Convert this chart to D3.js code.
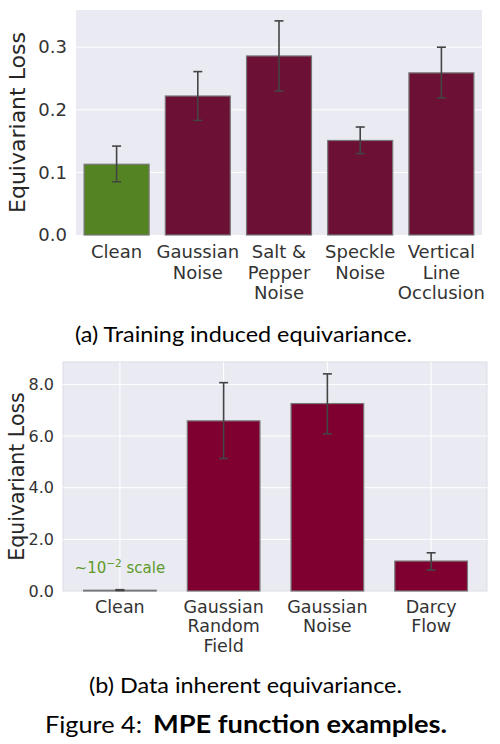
<!DOCTYPE html>
<html><head><meta charset="utf-8">
<script src="https://cdn.jsdelivr.net/npm/d3@7"></script>
<style>body{margin:0;background:#fff}svg{display:block}</style>
</head><body>
<script>
// Panel (a)
const catsA = [["Clean"],["Gaussian","Noise"],["Salt &","Pepper","Noise"],["Speckle","Noise"],["Vertical","Line","Occlusion"]];
const valsA = [0.113, 0.222, 0.286, 0.151, 0.259];
const errLoA = [0.085, 0.183, 0.230, 0.130, 0.219];
const errHiA = [0.142, 0.261, 0.342, 0.1725, 0.300];
const colorsA = ["#548421", "#6d1035", "#6d1035", "#6d1035", "#6d1035"];
const ticksA = [0.0, 0.1, 0.2, 0.3];

// Panel (b)
const catsB = [["Clean"],["Gaussian","Random","Field"],["Gaussian","Noise"],["Darcy","Flow"]];
const valsB = [0.03, 6.59, 7.26, 1.16];
const errLoB = [0.02, 5.13, 6.09, 0.81];
const errHiB = [0.05, 8.07, 8.41, 1.48];
const colorsB = ["#7f0030", "#7f0030", "#7f0030", "#7f0030"];
const ticksB = [0.0, 2.0, 4.0, 6.0, 8.0];

const W = 500, H = 744;
const svg = d3.select("body").append("svg").attr("width", W).attr("height", H);
const tickCol = "#333";
const font = "DejaVu Sans, sans-serif";

function panel(o) {
  const g = svg.append("g");
  g.append("rect").attr("x", o.left).attr("y", o.top).attr("width", o.right - o.left).attr("height", o.bottom - o.top)
    .attr("fill", "#eaeaf2").attr("stroke", o.border ? "#dcdce6" : "none");
  const idx = o.cats.map((d, i) => i);
  const x = d3.scaleBand().domain(idx).range([o.xl, o.xr]).paddingInner(o.pad).paddingOuter(o.pad / 2);
  const y = d3.scaleLinear().domain([0, o.ymax]).range([o.bottom, o.top]);
  g.selectAll(".hg").data(o.ticks.filter(t => t > 0)).join("line")
    .attr("x1", o.left).attr("x2", o.right).attr("y1", d => y(d)).attr("y2", d => y(d))
    .attr("stroke", "#fff").attr("stroke-width", 1);
  if (o.vgrid) {
    g.selectAll(".vg").data(idx).join("line")
      .attr("x1", d => x(d) + x.bandwidth() / 2).attr("x2", d => x(d) + x.bandwidth() / 2)
      .attr("y1", o.top).attr("y2", o.bottom).attr("stroke", "#fff").attr("stroke-width", 1);
  }
  g.selectAll(".bar").data(idx).join("rect")
    .attr("x", d => x(d)).attr("width", x.bandwidth())
    .attr("y", d => y(o.vals[d])).attr("height", d => y(0) - y(o.vals[d]))
    .attr("fill", d => o.colors[d]).attr("stroke", "#777").attr("stroke-width", 1.2);
  const cx = d => x(d) + x.bandwidth() / 2;
  g.selectAll(".ev").data(idx).join("line")
    .attr("x1", cx).attr("x2", cx).attr("y1", d => y(o.lo[d])).attr("y2", d => y(o.hi[d]))
    .attr("stroke", "#444").attr("stroke-width", 1.6);
  [o.lo, o.hi].forEach(arr => {
    g.selectAll(null).data(idx).join("line")
      .attr("x1", d => cx(d) - 4.5).attr("x2", d => cx(d) + 4.5)
      .attr("y1", d => y(arr[d])).attr("y2", d => y(arr[d]))
      .attr("stroke", "#444").attr("stroke-width", 1.6);
  });
  const ya = g.append("g").attr("transform", `translate(${o.left},0)`)
    .call(d3.axisLeft(y).tickValues(o.ticks).tickFormat(d3.format(".1f")).tickSize(0).tickPadding(o.ypad));
  ya.select(".domain").remove();
  ya.selectAll("text").attr("font-family", font).attr("font-size", o.yfs).attr("fill", tickCol);
  const xl = g.selectAll(".xl").data(idx).join("text")
    .attr("x", cx).attr("y", o.bottom + o.xoff)
    .attr("text-anchor", "middle").attr("font-family", font).attr("font-size", o.xfs).attr("fill", tickCol);
  xl.selectAll("tspan").data(d => o.cats[d].map(s => ({s, d}))).join("tspan")
    .attr("x", t => cx(t.d)).attr("dy", (t, i) => i === 0 ? 0 : o.lh).text(t => t.s);
  g.append("text").attr("transform", `translate(${o.ylx},${(o.top + o.bottom) / 2}) rotate(-90)`)
    .attr("text-anchor", "middle").attr("dominant-baseline", "central")
    .attr("font-family", font).attr("font-size", o.ylfs).attr("fill", "#262626").text("Equivariant Loss");
  return {g, x, y};
}

panel({cats: catsA, vals: valsA, lo: errLoA, hi: errHiA, colors: colorsA, ticks: ticksA,
  left: 76, right: 482, top: 10, bottom: 235, xl: 76, xr: 482, pad: 0.2, ymax: 0.3594,
  border: false, vgrid: false, ypad: 9, yfs: 18, xfs: 18, xoff: 23, lh: 20.5, ylx: 17, ylfs: 22});

const pb = panel({cats: catsB, vals: valsB, lo: errLoB, hi: errHiB, colors: colorsB, ticks: ticksB,
  left: 63, right: 487, top: 362, bottom: 591, xl: 68, xr: 483, pad: 0.3, ymax: 8.87,
  border: true, vgrid: true, ypad: 9, yfs: 16, xfs: 17.5, xoff: 21.5, lh: 19.5, ylx: 17, ylfs: 20.5});

const ann = svg.append("text").attr("x", pb.x(0) + pb.x.bandwidth() / 2).attr("y", 573)
  .attr("text-anchor", "middle").attr("font-family", font).attr("font-size", 15).attr("fill", "#5d9a2a");
ann.append("tspan").text("~10");
ann.append("tspan").attr("dy", -6).attr("font-size", 10.5).text("\u22122");
ann.append("tspan").attr("dy", 6).text(" scale");

// captions
const capFont = "Lato, 'Open Sans', sans-serif";
function cap(x, y, w, size, txt, bold) {
  return svg.append("text").attr("x", x).attr("y", y).attr("font-family", capFont).attr("font-size", size)
    .attr("font-weight", bold ? "bold" : "normal").attr("fill", "#000")
    .attr("textLength", w).attr("lengthAdjust", "spacingAndGlyphs").text(txt);
}
cap(75, 342, 337, 21, "(a) Training induced equivariance.");
cap(89, 693, 313, 21, "(b) Data inherent equivariance.");
cap(45, 733, 97, 24, "Figure 4:");
cap(153, 733, 294, 24, "MPE function examples.", true);
</script>
</body></html>
